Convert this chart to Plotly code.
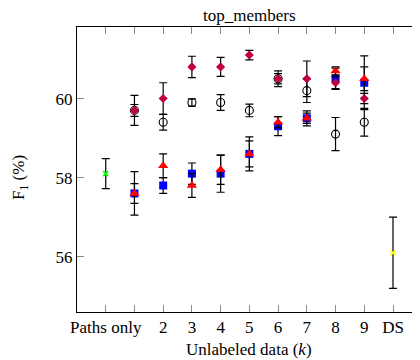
import plotly.graph_objects as go

# ---- data ----
k_vals = [1, 2, 3, 4, 5, 6, 7, 8, 9]

sq_vals = [57.6, 57.8, 58.1, 58.1, 58.6, 59.3, 59.5, 60.5, 60.4]
sq_err = [0.55, 0.2, 0.27, 0.47, 0.43, 0.24, 0.19, 0.27, 0.68]

tri_vals = [57.6, 58.3, 57.8, 58.2, 58.6, 59.4, 59.5, 60.7, 60.5]
tri_err = [0.25, 0.3, 0.3, 0.37, 0.33, 0.14, 0.13, 0.1, 0.3]

dia_vals = [59.7, 60.0, 60.8, 60.8, 61.1, 60.5, 60.5, 60.4, 60.0]
dia_err = [0.38, 0.4, 0.27, 0.24, 0.12, 0.2, 0.45, 0.15, 0.13]

circ_vals = [59.7, 59.4, 59.9, 59.9, 59.7, 60.5, 60.2, 59.1, 59.4]
circ_err = [0.15, 0.2, 0.09, 0.2, 0.16, 0.13, 0.3, 0.42, 0.35]

paths_x = [0]
paths_val = [58.1]
paths_err = [0.38]

ds_x = [10]
ds_val = [56.1]
ds_err = [0.9]

tick_vals = [0, 1, 2, 3, 4, 5, 6, 7, 8, 9, 10]
tick_text = ["Paths only", "", "2", "3", "4", "5", "6", "7", "8", "9", "DS"]
y_ticks = [56, 58, 60]

FONT = "Liberation Serif, Times New Roman, Times, DejaVu Serif, serif"
fig = go.Figure()


def err(arr):
    return dict(type="data", array=arr, visible=True, color="black", thickness=1.2, width=4)


fig.add_trace(go.Scatter(x=k_vals, y=circ_vals, mode="markers", error_y=err(circ_err),
                         marker=dict(symbol="circle-open", size=8, color="black", line=dict(width=1.1))))
fig.add_trace(go.Scatter(x=k_vals, y=sq_vals, mode="markers", error_y=err(sq_err),
                         marker=dict(symbol="square", size=8, color="#0000FF")))
fig.add_trace(go.Scatter(x=k_vals, y=tri_vals, mode="markers", error_y=err(tri_err),
                         marker=dict(symbol="triangle-up", size=9, color="#FF0000")))
fig.add_trace(go.Scatter(x=k_vals, y=dia_vals, mode="markers", error_y=err(dia_err),
                         marker=dict(symbol="diamond", size=7, color="#BF0040")))
fig.add_trace(go.Scatter(x=paths_x, y=paths_val, mode="markers", error_y=err(paths_err),
                         marker=dict(symbol="x-thin", size=5, color="#00FF00",
                                     line=dict(width=1.5, color="#00FF00"))))
fig.add_trace(go.Scatter(x=ds_x, y=ds_val, mode="markers", error_y=err(ds_err),
                         marker=dict(symbol="x-thin", size=5, color="#FFFF00",
                                     line=dict(width=1.5, color="#FFFF00"))))
# invisible trace to host the right-side ticks
fig.add_trace(go.Scatter(x=[0], y=[58], yaxis="y2", mode="markers",
                         marker=dict(opacity=0), hoverinfo="skip"))

yr = [54.6, 61.81]
fig.update_layout(
    width=412, height=352,
    margin=dict(l=69, r=0, t=19, b=48),
    paper_bgcolor="white", plot_bgcolor="white",
    showlegend=False,
    font=dict(family=FONT, size=17, color="black"),
    xaxis=dict(range=[-1, 10.94], tickvals=tick_vals, ticktext=tick_text,
               ticks="inside", ticklen=7, tickcolor="#888", tickwidth=1,
               showline=True, linecolor="black", linewidth=1, mirror="ticks",
               showgrid=False, zeroline=False, tickfont=dict(family=FONT, size=17)),
    yaxis=dict(range=yr, tickvals=y_ticks, ticks="inside", ticklen=7, tickcolor="#888",
               tickwidth=1, showline=True, linecolor="black", linewidth=1,
               showgrid=False, zeroline=False, tickfont=dict(family=FONT, size=17)),
    yaxis2=dict(range=yr, tickvals=y_ticks, overlaying="y", side="right", ticks="inside",
                ticklen=7, tickcolor="#888", tickwidth=1, showline=False,
                showticklabels=False, showgrid=False, zeroline=False),
    annotations=[
        dict(text="top_members", xref="x", x=5, yref="paper", y=1.0, yshift=0,
             xanchor="center", yanchor="bottom", showarrow=False,
             font=dict(family=FONT, size=17)),
        dict(text="Unlabeled data (<i>k</i>)", xref="x", x=5, yref="paper", y=-0.133,
             xanchor="center", yanchor="middle", showarrow=False,
             font=dict(family=FONT, size=17)),
        dict(text="F<sub>1</sub> (%)", xref="paper", x=-0.166, yref="paper", y=0.47,
             xanchor="center", yanchor="middle", textangle=-90, showarrow=False,
             font=dict(family=FONT, size=17)),
    ],
)

fig.write_html("out.html")
